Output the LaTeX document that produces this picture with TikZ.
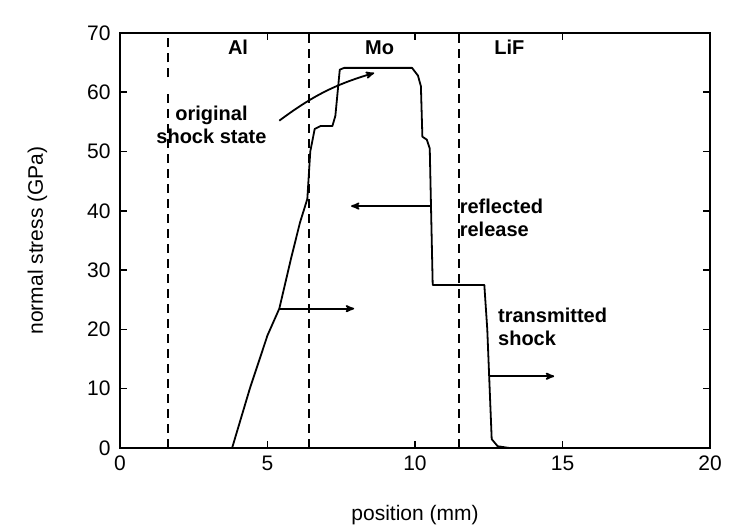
\documentclass[tikz,border=0pt]{standalone}
\usepackage{fontspec}
\setmainfont{Liberation Sans}
\usetikzlibrary{arrows}

\tikzset{
  divider/.style={line width=2.2pt, dash pattern=on 9pt off 6pt},
  marker/.style={->, >=stealth', line width=1.8pt, shorten >=1pt},
  tag/.style={font=\fontsize{20}{23}\selectfont\bfseries, align=left},
  tick/.style={font=\fontsize{21}{23}\selectfont}
}

\begin{document}
\begin{tikzpicture}[x=29.5pt, y=5.93pt]
  \useasboundingbox (-120pt,-77pt) rectangle (630pt,448pt);
  % axes frame and ticks
  \draw[line width=1.6pt] (0,0) rectangle (20,70);
  \foreach \xv in {0,5,...,20} {
    \draw[line width=1.6pt] (\xv,0) -- ++(0,7pt) (\xv,70) -- ++(0,-7pt);
    \node[tick, below] (xt\xv) at (\xv,-0.8) {\xv};
  }
  \foreach \yv in {0,10,...,70} {
    \draw[line width=1.6pt] (0,\yv) -- ++(7pt,0) (20,\yv) -- ++(-7pt,0);
    \node[tick, left] (yt\yv) at (-0.2,\yv) {\yv};
  }
  \node[tick] (xlab) at (10,-11.3) {position (mm)};
  \node[tick, rotate=90] (ylab) at (-2.8,35) {normal stress (GPa)};
  % layer boundaries
  \draw[divider] (1.63,0) -- (1.63,60.5);
  \draw[divider] (1.63,62.5) -- (1.63,70);
  \draw[divider] (6.4,0) -- (6.4,70);
  \draw[divider] (11.5,0) -- (11.5,70);
  \node[tag] (al) at (4.0,67.5) {Al};
  \node[tag] (mo) at (8.8,67.5) {Mo};
  \node[tag] (lif) at (13.2,67.5) {LiF};
  % stress profile
  \draw[line width=1.8pt, line join=round] (3.8,0) -- (4.4,10) -- (5.0,19) -- (5.4,23.5)
    -- (5.8,32) -- (6.1,38) -- (6.35,42) -- (6.45,50) -- (6.6,53.8)
    -- (6.8,54.3) -- (7.2,54.3) -- (7.3,56) -- (7.45,63.8) -- (7.6,64.1)
    -- (9.9,64.1) -- (10.1,62.8) -- (10.2,61) -- (10.25,52.5) -- (10.4,52)
    -- (10.5,50.5) -- (10.6,27.5) -- (12.35,27.5) -- (12.45,20)
    -- (12.6,1.5) -- (12.8,0.3) -- (13.2,0);
  % annotations
  \node[tag, align=center] (orig) at (3.1,54.5) {original\\shock state};
  \node[tag, anchor=west] (refl) at (11.4,38.8) {reflected\\release};
  \node[tag, anchor=west] (trans) at (12.7,20.5) {transmitted\\shock};
  \coordinate (origs) at (5.4,55.2);
  \coordinate (orige) at (8.65,63.3);
  \draw[marker] (origs) to[bend left=10] (orige);
  \coordinate (a1) at (5.42,23.5);
  \coordinate (a2) at (7.97,23.5);
  \draw[marker] (a1) -- (a2);
  \coordinate (b1) at (10.51,40.8);
  \coordinate (b2) at (7.8,40.8);
  \draw[marker] (b1) -- (b2);
  \coordinate (c1) at (12.54,12.1);
  \coordinate (c2) at (14.75,12.1);
  \draw[marker] (c1) -- (c2);
\end{tikzpicture}
\end{document}
